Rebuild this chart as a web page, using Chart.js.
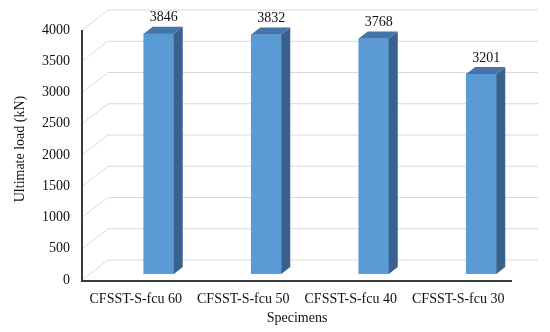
<!DOCTYPE html>
<html>
<head>
<meta charset="utf-8">
<script src="https://cdn.jsdelivr.net/npm/chart.js@4"></script>
<style>
  html, body { margin: 0; padding: 0; background: #fff; }
  #wrap { width: 550px; height: 332px; }
</style>
</head>
<body>
<div id="wrap"><canvas id="c" width="550" height="332"></canvas></div>
<script>
const categories = ['CFSST-S-fcu 60', 'CFSST-S-fcu 50', 'CFSST-S-fcu 40', 'CFSST-S-fcu 30'];
const ultimateLoad = [3846, 3832, 3768, 3201];
const yTicks = [0, 500, 1000, 1500, 2000, 2500, 3000, 3500, 4000];
const yTitle = 'Ultimate load (kN)';
const xTitle = 'Specimens';

const FONT = '"Liberation Serif", "Times New Roman", serif';
// 3D offsets (pixels) relative to the bar plane
const FRONT = { dx: -23, dy: 6 };
const BACK = { dx: 3, dy: -14 };
const DEPTH = { dx: 9, dy: -7 };

const threeD = {
  id: 'threeD',
  beforeDatasetsDraw(chart) {
    const ctx = chart.ctx;
    const y = chart.scales.y;
    const xs = chart.scales.x;
    const left = xs.left, right = xs.right;
    ctx.save();
    ctx.strokeStyle = '#D9D9D9';
    ctx.lineWidth = 1;
    yTicks.forEach(v => {
      const py = y.getPixelForValue(v);
      ctx.beginPath();
      ctx.moveTo(left + FRONT.dx, py + FRONT.dy);
      ctx.lineTo(left + BACK.dx, py + BACK.dy);
      ctx.lineTo(right + BACK.dx, py + BACK.dy);
      ctx.stroke();
    });
    ctx.restore();
  },
  afterDatasetsDraw(chart) {
    const ctx = chart.ctx;
    const meta = chart.getDatasetMeta(0);
    ctx.save();
    meta.data.forEach((bar, i) => {
      const p = bar.getProps(['x', 'y', 'base', 'width'], true);
      const l = p.x - p.width / 2, r = p.x + p.width / 2, t = p.y, b = p.base;
      // side
      ctx.fillStyle = '#38628D';
      ctx.beginPath();
      ctx.moveTo(r, t); ctx.lineTo(r + DEPTH.dx, t + DEPTH.dy);
      ctx.lineTo(r + DEPTH.dx, b + DEPTH.dy); ctx.lineTo(r, b); ctx.closePath();
      ctx.fill();
      // top
      ctx.fillStyle = '#4474A8';
      ctx.beginPath();
      ctx.moveTo(l, t); ctx.lineTo(l + DEPTH.dx, t + DEPTH.dy);
      ctx.lineTo(r + DEPTH.dx, t + DEPTH.dy); ctx.lineTo(r, t); ctx.closePath();
      ctx.fill();
      // data label
      ctx.fillStyle = '#111';
      ctx.font = '14px ' + FONT;
      ctx.textAlign = 'center';
      ctx.textBaseline = 'middle';
      ctx.fillText(String(ultimateLoad[i]), p.x + 5, t - 16);
    });
    ctx.restore();
  },
  afterDraw(chart) {
    const ctx = chart.ctx;
    const y = chart.scales.y;
    const xs = chart.scales.x;
    const x0 = xs.left + FRONT.dx, x1 = xs.right + FRONT.dx;
    const yb = y.getPixelForValue(0) + FRONT.dy;
    const yt = y.getPixelForValue(4000) + FRONT.dy;
    ctx.save();
    ctx.strokeStyle = '#3a3a3a';
    ctx.lineWidth = 2;
    ctx.beginPath();
    ctx.moveTo(x0, yt); ctx.lineTo(x0, yb + 1); ctx.lineTo(x1, yb + 1);
    ctx.stroke();
    ctx.fillStyle = '#111';
    ctx.font = '14px ' + FONT;
    ctx.textAlign = 'center';
    ctx.textBaseline = 'middle';
    ctx.fillText(xTitle, (x0 + x1) / 2, 318);
    ctx.restore();
  }
};

new Chart(document.getElementById('c'), {
  type: 'bar',
  data: {
    labels: categories,
    datasets: [{
      data: ultimateLoad,
      backgroundColor: '#5B9BD5',
      borderWidth: 0,
      barThickness: 30
    }]
  },
  options: {
    responsive: false,
    animation: false,
    layout: { padding: { left: 0, right: 15, top: 24, bottom: 0 } },
    plugins: { legend: { display: false }, tooltip: { enabled: false } },
    scales: {
      x: {
        grid: { display: false },
        border: { display: false },
        ticks: {
          color: '#111',
          font: { family: FONT, size: 14 },
          padding: 9,
          labelOffset: -23,
          maxRotation: 0,
          autoSkip: false
        },
        afterFit(s) { s.height = 58; }
      },
      y: {
        min: 0, max: 4000,
        grid: { display: false, drawTicks: false },
        border: { display: false },
        ticks: {
          stepSize: 500,
          color: '#111',
          font: { family: FONT, size: 14 },
          padding: 35,
          labelOffset: 6,
          callback: v => String(v)
        },
        title: {
          display: true,
          text: yTitle,
          color: '#111',
          font: { family: FONT, size: 14 },
          padding: { top: 12, bottom: 0 }
        },
        afterFit(s) { s.width = 105; s.paddingTop = 0; s.paddingBottom = 0; }
      }
    }
  },
  plugins: [threeD]
});
</script>
</body>
</html>
